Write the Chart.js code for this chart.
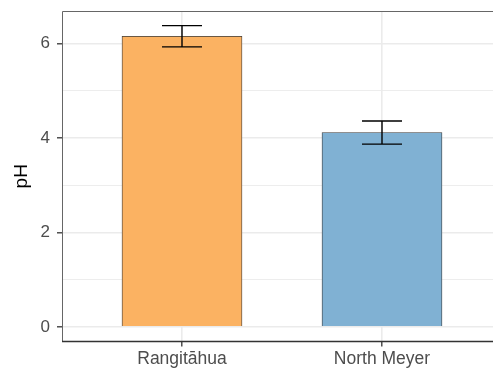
<!DOCTYPE html>
<html><head><meta charset="utf-8">
<script src="https://cdn.jsdelivr.net/npm/chart.js@4"></script>
<style>html,body{margin:0;padding:0;overflow:hidden;background:#fff;width:493px;height:370px}#wrap{position:absolute;left:0;top:0;width:510px;height:370px}</style>
</head><body><div id="wrap"><canvas id="c" width="510" height="370"></canvas></div>
<script>
const categories = ["Rangitāhua", "North Meyer"];
const phMean = [6.155, 4.115];
const phLow = [5.93, 3.87];
const phHigh = [6.38, 4.36];
const barColors = ["#FBB262", "#80B1D3"];
const yTicks = [0, 2, 4, 6];
const yGrid = [0, 1, 2, 3, 4, 5, 6];

const FONT = "'Liberation Sans', Arial, sans-serif";

const errorBars = {
  id: 'errorBars',
  afterDatasetsDraw(chart) {
    const {ctx, scales: {x, y}} = chart;
    ctx.save();
    ctx.strokeStyle = '#000';
    ctx.lineWidth = 1.4;
    categories.forEach((c, i) => {
      const px = x.getPixelForValue(i + 1);
      const half = (x.getPixelForValue(1.1) - x.getPixelForValue(1));
      const yl = y.getPixelForValue(phLow[i]);
      const yh = y.getPixelForValue(phHigh[i]);
      ctx.beginPath();
      ctx.moveTo(px, yl); ctx.lineTo(px, yh);
      ctx.moveTo(px - half, yh); ctx.lineTo(px + half, yh);
      ctx.moveTo(px - half, yl); ctx.lineTo(px + half, yl);
      ctx.stroke();
    });
    ctx.restore();
  }
};
const panelBorder = {
  id: 'panelBorder',
  afterDraw(chart) {
    const {ctx, chartArea: a} = chart;
    ctx.save();
    ctx.strokeStyle = '#666';
    ctx.lineWidth = 1;
    ctx.beginPath();
    ctx.moveTo(a.left + 0.5, a.bottom); ctx.lineTo(a.left + 0.5, a.top + 0.5); ctx.lineTo(a.right, a.top + 0.5);
    ctx.stroke();
    ctx.strokeStyle = '#333';
    ctx.lineWidth = 1.4;
    ctx.beginPath();
    ctx.moveTo(a.left, a.bottom); ctx.lineTo(a.right, a.bottom);
    ctx.stroke();
    ctx.restore();
  }
};

new Chart(document.getElementById('c'), {
  type: 'bar',
  data: {
    datasets: [{
      data: categories.map((c, i) => ({x: i + 1, y: phMean[i]})),
      backgroundColor: barColors,
      borderColor: '#3a3a3a',
      borderWidth: 0.8,
      barThickness: 120,
      grouped: false
    }]
  },
  options: {
    responsive: false,
    animation: false,
    events: [],
    layout: {padding: {top: 11, right: 8, left: 0, bottom: 0}},
    plugins: {legend: {display: false}, tooltip: {enabled: false}},
    scales: {
      x: {
        type: 'linear', min: 0.4, max: 2.6, offset: false,
        afterBuildTicks(s) { s.ticks = categories.map((c, i) => ({value: i + 1})); },
        afterFit(s) { s.height = 28.5; s.paddingLeft = 0; s.paddingRight = 0; },
        border: {display: false},
        grid: {offset: false, color: '#EBEBEB', lineWidth: 1.6, tickLength: 5, tickColor: '#333', tickWidth: 1.3},
        ticks: {
          callback: (v) => categories[Math.round(v) - 1] || '',
          color: '#4D4D4D', font: {family: FONT, size: 17.5}, padding: 2, maxRotation: 0
        }
      },
      y: {
        type: 'linear', min: -0.31, max: 6.69,
        afterBuildTicks(s) { s.ticks = yGrid.map(v => ({value: v})); },
        afterFit(s) { s.width = 62; s.paddingTop = 0; s.paddingBottom = 0; },
        border: {display: false},
        grid: {
          color: '#EBEBEB',
          lineWidth: (c) => (c.tick && yTicks.includes(c.tick.value)) ? 1.6 : 0.9,
          tickLength: 5,
          tickColor: (c) => (c.tick && yTicks.includes(c.tick.value)) ? '#333' : 'rgba(0,0,0,0)',
          tickWidth: 1.3
        },
        ticks: {
          callback: (v) => yTicks.includes(v) ? String(v) : '',
          color: '#4D4D4D', font: {family: FONT, size: 17}, padding: 7
        },
        title: {display: true, text: 'pH', color: '#000', font: {family: FONT, size: 19}, padding: {top: 10, bottom: 0}}
      }
    }
  },
  plugins: [errorBars, panelBorder]
});
</script></body></html>
